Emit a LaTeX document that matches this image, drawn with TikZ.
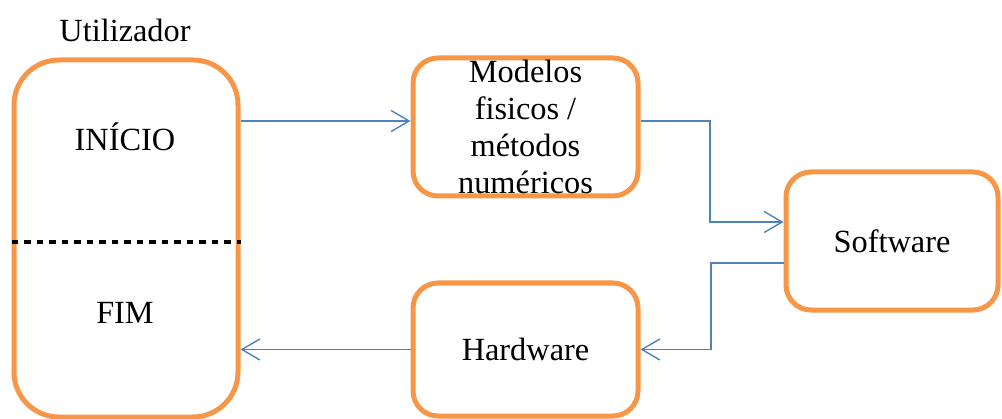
\documentclass[tikz,border=0pt]{standalone}
\usepackage{fontspec}
\setmainfont{Liberation Serif}
\usetikzlibrary{arrows.meta}
\definecolor{laranja}{RGB}{247,150,70}
\definecolor{azul}{RGB}{79,129,189}

\begin{document}
\begin{tikzpicture}[
    every node/.style={font=\fontsize{18.4}{20.4}\selectfont},
    caixa/.style={draw=laranja, line width=0.1cm, rounded corners=0.5cm, inner sep=0pt, align=center},
    seta/.style={draw=azul, line width=0.8pt, -{Straight Barb[length=0.36cm, width=0.42cm]}},
    pontilhado/.style={draw=black, line width=0.08cm, dash pattern=on 0.13cm off 0.12cm}
]
    \useasboundingbox (0,0) rectangle (20.04,-8.38);

    \node[caixa, rounded corners=0.9cm, minimum width=4.48cm, minimum height=7.14cm] (user) at (2.52,-4.77) {};
    \node (utilizador) at (2.5,-0.6) {Utilizador};
    \node (inicio) at (2.5,-2.74) {INÍCIO};
    \node (fim) at (2.5,-6.26) {FIM};
    \draw[pontilhado] (user.west |- 0,-4.84) -- (user.east |- 0,-4.84);

    \node[caixa, minimum width=4.5cm, minimum height=2.76cm, font=\fontsize{18.4}{21.2}\selectfont] (modelos) at (10.51,-2.54) {Modelos\\fisicos /\\métodos\\numéricos};
    \node[caixa, minimum width=4.24cm, minimum height=2.76cm] (software) at (17.84,-4.82) {Software};
    \node[caixa, minimum width=4.5cm, minimum height=2.66cm] (hardware) at (10.51,-6.99) {Hardware};

    \draw[seta] (user.east |- 0,-2.42) -- (modelos.west |- 0,-2.42);
    \draw[seta] (modelos.east |- 0,-2.42) -- ++(1.39,0) |- (software.west |- 0,-4.44);
    \draw[seta] (software.west |- 0,-5.26) -- ++(-1.45,0) |- (hardware.east);
    \draw[seta] (hardware.west) -- (hardware.west -| user.east);
\end{tikzpicture}
\end{document}
